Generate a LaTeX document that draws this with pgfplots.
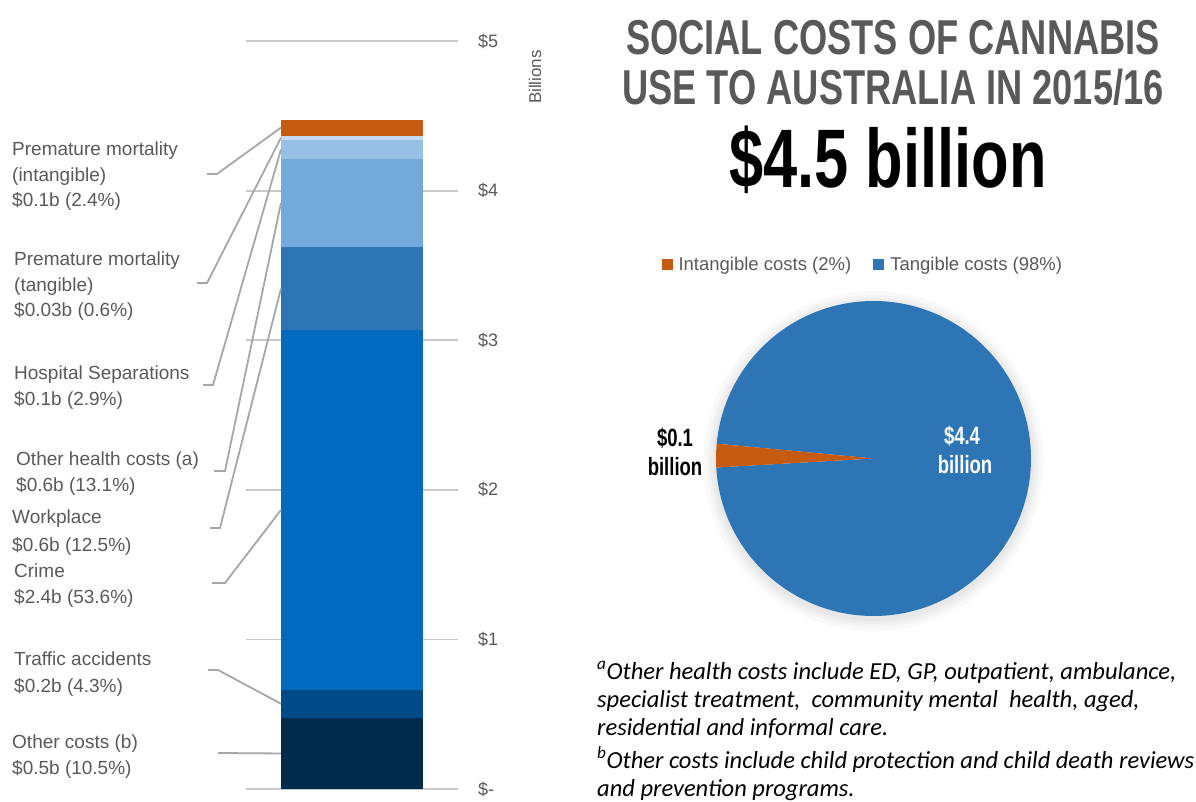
\documentclass[border=0pt]{standalone}
\usepackage{pgfplots}
\pgfplotsset{compat=1.18}
\usepackage{fontspec}
\setmainfont{Liberation Sans}
\newfontfamily\cond[FakeStretch=0.74]{Liberation Sans}
\newfontfamily\notefont{Carlito}

\definecolor{txtgray}{HTML}{595959}
\definecolor{gridgray}{HTML}{C8C8C8}
\definecolor{leadgray}{HTML}{A6A6A6}
\definecolor{cOther}{HTML}{002B4C}
\definecolor{cTraffic}{HTML}{004A87}
\definecolor{cCrime}{HTML}{006ABE}
\definecolor{cWork}{HTML}{2E75B6}
\definecolor{cHealth}{HTML}{74A9DB}
\definecolor{cHosp}{HTML}{97C0E5}
\definecolor{cPremT}{HTML}{C5DAF0}
\definecolor{cIntang}{HTML}{C55A11}
\definecolor{cTang}{HTML}{2E75B6}

\newcommand{\lab}[3]{\node[anchor=base west, inner sep=0pt, text=txtgray,
  font=\fontsize{19}{19}\selectfont] at (#1,{801-#2}) {#3};}
\newcommand{\note}[2]{\node[anchor=base west, inner sep=0pt,
  font=\notefont\itshape\fontsize{24.5}{24.5}\selectfont] at (597,{801-#1}) {#2};}

% pie values (billions)
\pgfmathsetmacro\intang{0.108}
\pgfmathsetmacro\tang{4.367}
\pgfmathsetmacro\aspan{360*\intang/(\intang+\tang)}
\pgfmathsetmacro\astart{174.6}
\pgfmathsetmacro\aend{\astart+\aspan}

\begin{document}
\begin{tikzpicture}[x=1pt,y=1pt]
\path[use as bounding box] (0,0) rectangle (1196,801);

% stacked bar
\begin{axis}[
  at={(246pt,12pt)}, anchor=south west,
  scale only axis, width=212pt, height=748pt,
  xmin=-1, xmax=1, ymin=0, ymax=5,
  ybar stacked, bar width=142pt,
  axis x line=none, axis y line*=right,
  y axis line style={draw=none},
  ytick={0,1,2,3,4,5},
  yticklabels={\$-,\$1,\$2,\$3,\$4,\$5},
  major tick length=0pt,
  yticklabel style={anchor=west, xshift=20pt, inner sep=0pt,
    font=\fontsize{18}{18}\selectfont, text=txtgray},
  ymajorgrids, grid style={line width=1.8pt, color=gridgray},
  clip=false,
]
\addplot[fill=cOther, draw=none] coordinates {(0,0.475)};   % other costs
\addplot[fill=cTraffic, draw=none] coordinates {(0,0.19)};  % traffic
\addplot[fill=cCrime, draw=none] coordinates {(0,2.40)};    % crime
\addplot[fill=cWork, draw=none] coordinates {(0,0.56)};     % workplace
\addplot[fill=cHealth, draw=none] coordinates {(0,0.585)};  % other health
\addplot[fill=cHosp, draw=none] coordinates {(0,0.13)};     % hospital
\addplot[fill=cPremT, draw=none] coordinates {(0,0.027)};   % premature tangible
\addplot[fill=cIntang, draw=none] coordinates {(0,0.108)};  % premature intangible
% segment mid points on left edge
\coordinate (e1) at (axis cs:-0.67,0.2375);
\coordinate (e2) at (axis cs:-0.67,0.57);
\coordinate (e3) at (axis cs:-0.67,1.865);
\coordinate (e4) at (axis cs:-0.67,3.345);
\coordinate (e5) at (axis cs:-0.67,3.9175);
\coordinate (e6) at (axis cs:-0.67,4.275);
\coordinate (e7) at (axis cs:-0.67,4.3535);
\coordinate (e8) at (axis cs:-0.67,4.421);
\end{axis}

\node[rotate=90, text=txtgray, font=\fontsize{17}{17}\selectfont] at (535,{801-77}) {Billions};

% leader lines
\begin{scope}[leadgray, line width=1.8pt]
\draw (218,{801-753}) -- (e1);
\draw (208,{801-670}) -- (218,{801-670}) -- (e2);
\draw (212,{801-583}) -- (225,{801-583}) -- (e3);
\draw (210,{801-528}) -- (220,{801-528}) -- (e4);
\draw (214,{801-471}) -- (225,{801-471}) -- (e5);
\draw (203,{801-385}) -- (213,{801-385}) -- (e6);
\draw (197,{801-283}) -- (207,{801-283}) -- (e7);
\draw (207,{801-174}) -- (217,{801-174}) -- (e8);
\end{scope}

% labels
\lab{12}{156}{Premature mortality}
\lab{12}{182}{(intangible)}
\lab{12}{207}{\$0.1b (2.4\%)}
\lab{14}{266}{Premature mortality}
\lab{14}{292}{(tangible)}
\lab{14}{317}{\$0.03b (0.6\%)}
\lab{14}{380}{Hospital Separations}
\lab{14}{406}{\$0.1b (2.9\%)}
\lab{16}{466}{Other health costs (a)}
\lab{16}{492}{\$0.6b (13.1\%)}
\lab{12}{524}{Workplace}
\lab{12}{551}{\$0.6b (12.5\%)}
\lab{14}{577}{Crime}
\lab{14}{603}{\$2.4b (53.6\%)}
\lab{14}{665}{Traffic accidents}
\lab{14}{692}{\$0.2b (4.3\%)}
\lab{12}{748}{Other costs (b)}
\lab{12}{774}{\$0.5b (10.5\%)}

% titles
\node[anchor=base, text=txtgray, font=\cond\bfseries\fontsize{49}{49}\selectfont]
  at (893,{801-55}) {SOCIAL COSTS OF CANNABIS};
\node[anchor=base, text=txtgray, font=\cond\bfseries\fontsize{49}{49}\selectfont]
  at (893,{801-105}) {USE TO AUSTRALIA IN 2015/16};
\node[anchor=base, font=\cond\bfseries\fontsize{83}{83}\selectfont]
  at (888,{801-188}) {\$4.5 billion};

% soft shadow behind pie
\foreach \r in {170,166,163,160}
  \fill[black, opacity=0.022] (873.5,{801-461}) circle (\r);

% pie
\begin{axis}[
  at={(873.5pt,342.5pt)}, anchor=center,
  scale only axis, width=315pt, height=315pt,
  xmin=-1, xmax=1, ymin=-1, ymax=1,
  hide axis, clip=false,
  legend columns=2,
  legend style={draw=none, fill=none, at={(-0.183,1.117)}, anchor=west,
    font=\fontsize{18.5}{18.5}\selectfont, text=txtgray,
    /tikz/every odd column/.append style={column sep=4pt},
    /tikz/every even column/.append style={column sep=20pt}},
  legend image code/.code={\fill[#1] (0pt,-5.5pt) rectangle (11pt,5.5pt);},
]
\addlegendimage{fill=cIntang, draw=none}
\addlegendentry{Intangible costs (2\%)}
\addlegendimage{fill=cTang, draw=none}
\addlegendentry{Tangible costs (98\%)}
\fill[cTang] (axis cs:0,0) -- (axis cs:{cos(\aend)},{sin(\aend)})
  arc[start angle=\aend, end angle=\astart+360, radius=157.5pt] -- cycle;
\fill[cIntang] (axis cs:0,0) -- (axis cs:{cos(\astart)},{sin(\astart)})
  arc[start angle=\astart, end angle=\aend, radius=157.5pt] -- cycle;
\end{axis}

\node[anchor=base, font=\cond\bfseries\fontsize{25}{25}\selectfont] at (675,{801-447}) {\$0.1};
\node[anchor=base, font=\cond\bfseries\fontsize{25}{25}\selectfont] at (675,{801-476}) {billion};
\node[anchor=base, text=white, font=\cond\bfseries\fontsize{25}{25}\selectfont] at (962,{801-445}) {\$4.4};
\node[anchor=base, text=white, font=\cond\bfseries\fontsize{25}{25}\selectfont] at (965,{801-474}) {billion};

% footnotes
\note{679}{\textsuperscript{a}Other health costs include ED, GP, outpatient, ambulance,}
\note{707}{specialist treatment,\ \ community mental\ \ health, aged,}
\note{735}{residential and informal care.}
\note{768}{\textsuperscript{b}Other costs include child protection and child death reviews}
\note{796}{and prevention programs.}
\end{tikzpicture}
\end{document}
